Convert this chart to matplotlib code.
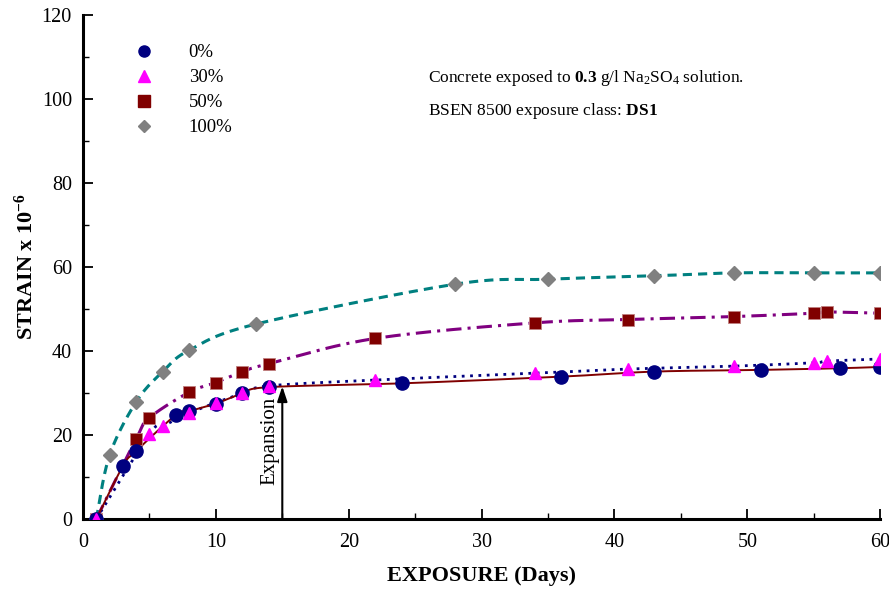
import numpy as np
import matplotlib
matplotlib.use("Agg")
import matplotlib.pyplot as plt
from matplotlib.lines import Line2D

plt.rcParams['font.family'] = ['Liberation Serif', 'DejaVu Serif']
plt.rcParams['mathtext.fontset'] = 'custom'
plt.rcParams['mathtext.rm'] = 'Liberation Serif'
plt.rcParams['mathtext.bf'] = 'Liberation Serif:bold'
plt.rcParams['mathtext.it'] = 'Liberation Serif:italic'

# ---- data ----
days_0 = [1, 3, 4, 7, 8, 10, 12, 14, 24, 36, 43, 51, 57, 60]
strain_0 = [0, 12.6, 16.2, 24.8, 25.7, 27.5, 29.9, 31.4, 32.3, 33.9, 35.1, 35.5, 35.9, 36.2]

days_30 = [1, 5, 6, 8, 10, 12, 14, 22, 34, 41, 49, 55, 56, 60]
strain_30 = [0, 20.2, 22.1, 25.2, 27.7, 29.9, 31.7, 33.1, 34.7, 35.7, 36.4, 37.2, 37.6, 38.1]

days_50 = [1, 4, 5, 8, 10, 12, 14, 22, 34, 41, 49, 55, 56, 60]
strain_50 = [0, 19.1, 24.1, 30.2, 32.5, 35.1, 37.0, 43.0, 46.7, 47.5, 48.2, 49.0, 49.3, 49.0]

days_100 = [1, 2, 4, 6, 8, 13, 28, 35, 43, 49, 55, 60]
strain_100 = [0, 15.2, 27.9, 35.1, 40.2, 46.4, 55.9, 57.1, 57.9, 58.6, 58.6, 58.6]

labels = ['0%', '30%', '50%', '100%']
x_ticks = [0, 10, 20, 30, 40, 50, 60]
y_ticks = [0, 20, 40, 60, 80, 100, 120]


def smooth(x, y, n=30):
    """Excel-style smoothed line (Catmull-Rom Bezier) through the points."""
    x = np.asarray(x, float)
    y = np.asarray(y, float)
    P = np.column_stack([x, y])
    out = []
    for i in range(len(P) - 1):
        p0 = P[i - 1] if i > 0 else P[i]
        p1 = P[i]
        p2 = P[i + 1]
        p3 = P[i + 2] if i + 2 < len(P) else P[i + 1]
        c1 = p1 + (p2 - p0) / 6.0
        c2 = p2 - (p3 - p1) / 6.0
        t = np.linspace(0, 1, n)[:, None]
        seg = ((1 - t) ** 3) * p1 + 3 * ((1 - t) ** 2) * t * c1 + 3 * (1 - t) * t ** 2 * c2 + t ** 3 * p2
        out.append(seg if i == 0 else seg[1:])
    s = np.vstack(out)
    return s[:, 0], s[:, 1]


fig = plt.figure(figsize=(8.89, 5.90), dpi=100)
ax = fig.add_axes([0.0934, 0.1203, 0.8966, 0.8543])

# curves
sx, sy = smooth(days_100, strain_100)
ax.plot(sx, sy, color='#008080', lw=2.2, ls=(0, (3, 2)), zorder=2)
sx, sy = smooth(days_50, strain_50)
ax.plot(sx, sy, color='#800080', lw=2.2, ls=(0, (5, 2, 1, 2)), zorder=2)
sx, sy = smooth(days_30, strain_30)
ax.plot(sx, sy, color='#000080', lw=2.0, ls=(0, (1, 2)), zorder=2)
sx, sy = smooth(days_0, strain_0)
ax.plot(sx, sy, color='#800000', lw=1.4, ls='-', zorder=2)

# markers
ax.plot(days_100, strain_100, ls='none', marker='D', ms=7, color='#808080', mec='#808080', zorder=3)
ax.plot(days_50, strain_50, ls='none', marker='s', ms=9, color='#800000', mec='#c08080', mew=0.6, zorder=4)
ax.plot(days_0, strain_0, ls='none', marker='o', ms=9.5, color='#000080', mec='#000080', zorder=5)
ax.plot(days_30, strain_30, ls='none', marker='^', ms=9, color='#FF00FF', mec='#FF00FF', zorder=6)

# legend
handles = [
    Line2D([], [], ls='none', marker='o', ms=8, color='#000080'),
    Line2D([], [], ls='none', marker='^', ms=8, color='#FF00FF'),
    Line2D([], [], ls='none', marker='s', ms=8, color='#800000'),
    Line2D([], [], ls='none', marker='D', ms=6, color='#808080'),
]
ax.legend(handles, labels, loc='upper left', bbox_to_anchor=(0.055, 0.957), frameon=False,
          fontsize=13.5, handlelength=1.0, handletextpad=1.9, labelspacing=0.42, borderaxespad=0)

# annotations
ax.text(26.0, 105.0, r"Concrete exposed to $\mathbf{0.3}$ g/l Na$_2$SO$_4$ solution.",
        fontsize=12.5, ha='left', va='center')
ax.text(26.0, 97.2, r"BSEN 8500 exposure class: $\mathbf{DS1}$",
        fontsize=12.5, ha='left', va='center')

ax.annotate('', xy=(15, 31.6), xytext=(15, 0),
            arrowprops=dict(arrowstyle='-|>,head_length=0.9,head_width=0.3', color='black', lw=1.5,
                            shrinkA=0, shrinkB=0), zorder=7)
ax.text(14.1, 18.5, 'Expansion', rotation=90, fontsize=15, ha='center', va='center')

# axes styling
ax.set_xlim(0, 60)
ax.set_ylim(0, 120)
ax.set_xticks(x_ticks)
ax.set_yticks(y_ticks)
ax.set_xticks(np.arange(5, 60, 10), minor=True)
ax.set_yticks(np.arange(10, 120, 20), minor=True)
ax.tick_params(axis='both', which='major', direction='in', length=7, width=1.3, labelsize=14.5)
ax.tick_params(axis='x', which='major', pad=10)
ax.tick_params(axis='y', which='major', pad=8)
ax.tick_params(axis='both', which='minor', direction='in', length=4, width=1.0)
for s in ['top', 'right']:
    ax.spines[s].set_visible(False)
for s in ['left', 'bottom']:
    ax.spines[s].set_linewidth(2.2)

ax.set_xlabel('EXPOSURE (Days)', fontsize=16, fontweight='bold', labelpad=10)
ax.set_ylabel(r'STRAIN x 10$^{\mathbf{-6}}$', fontsize=16, fontweight='bold', labelpad=3)

fig.savefig('out.png', dpi=100)
